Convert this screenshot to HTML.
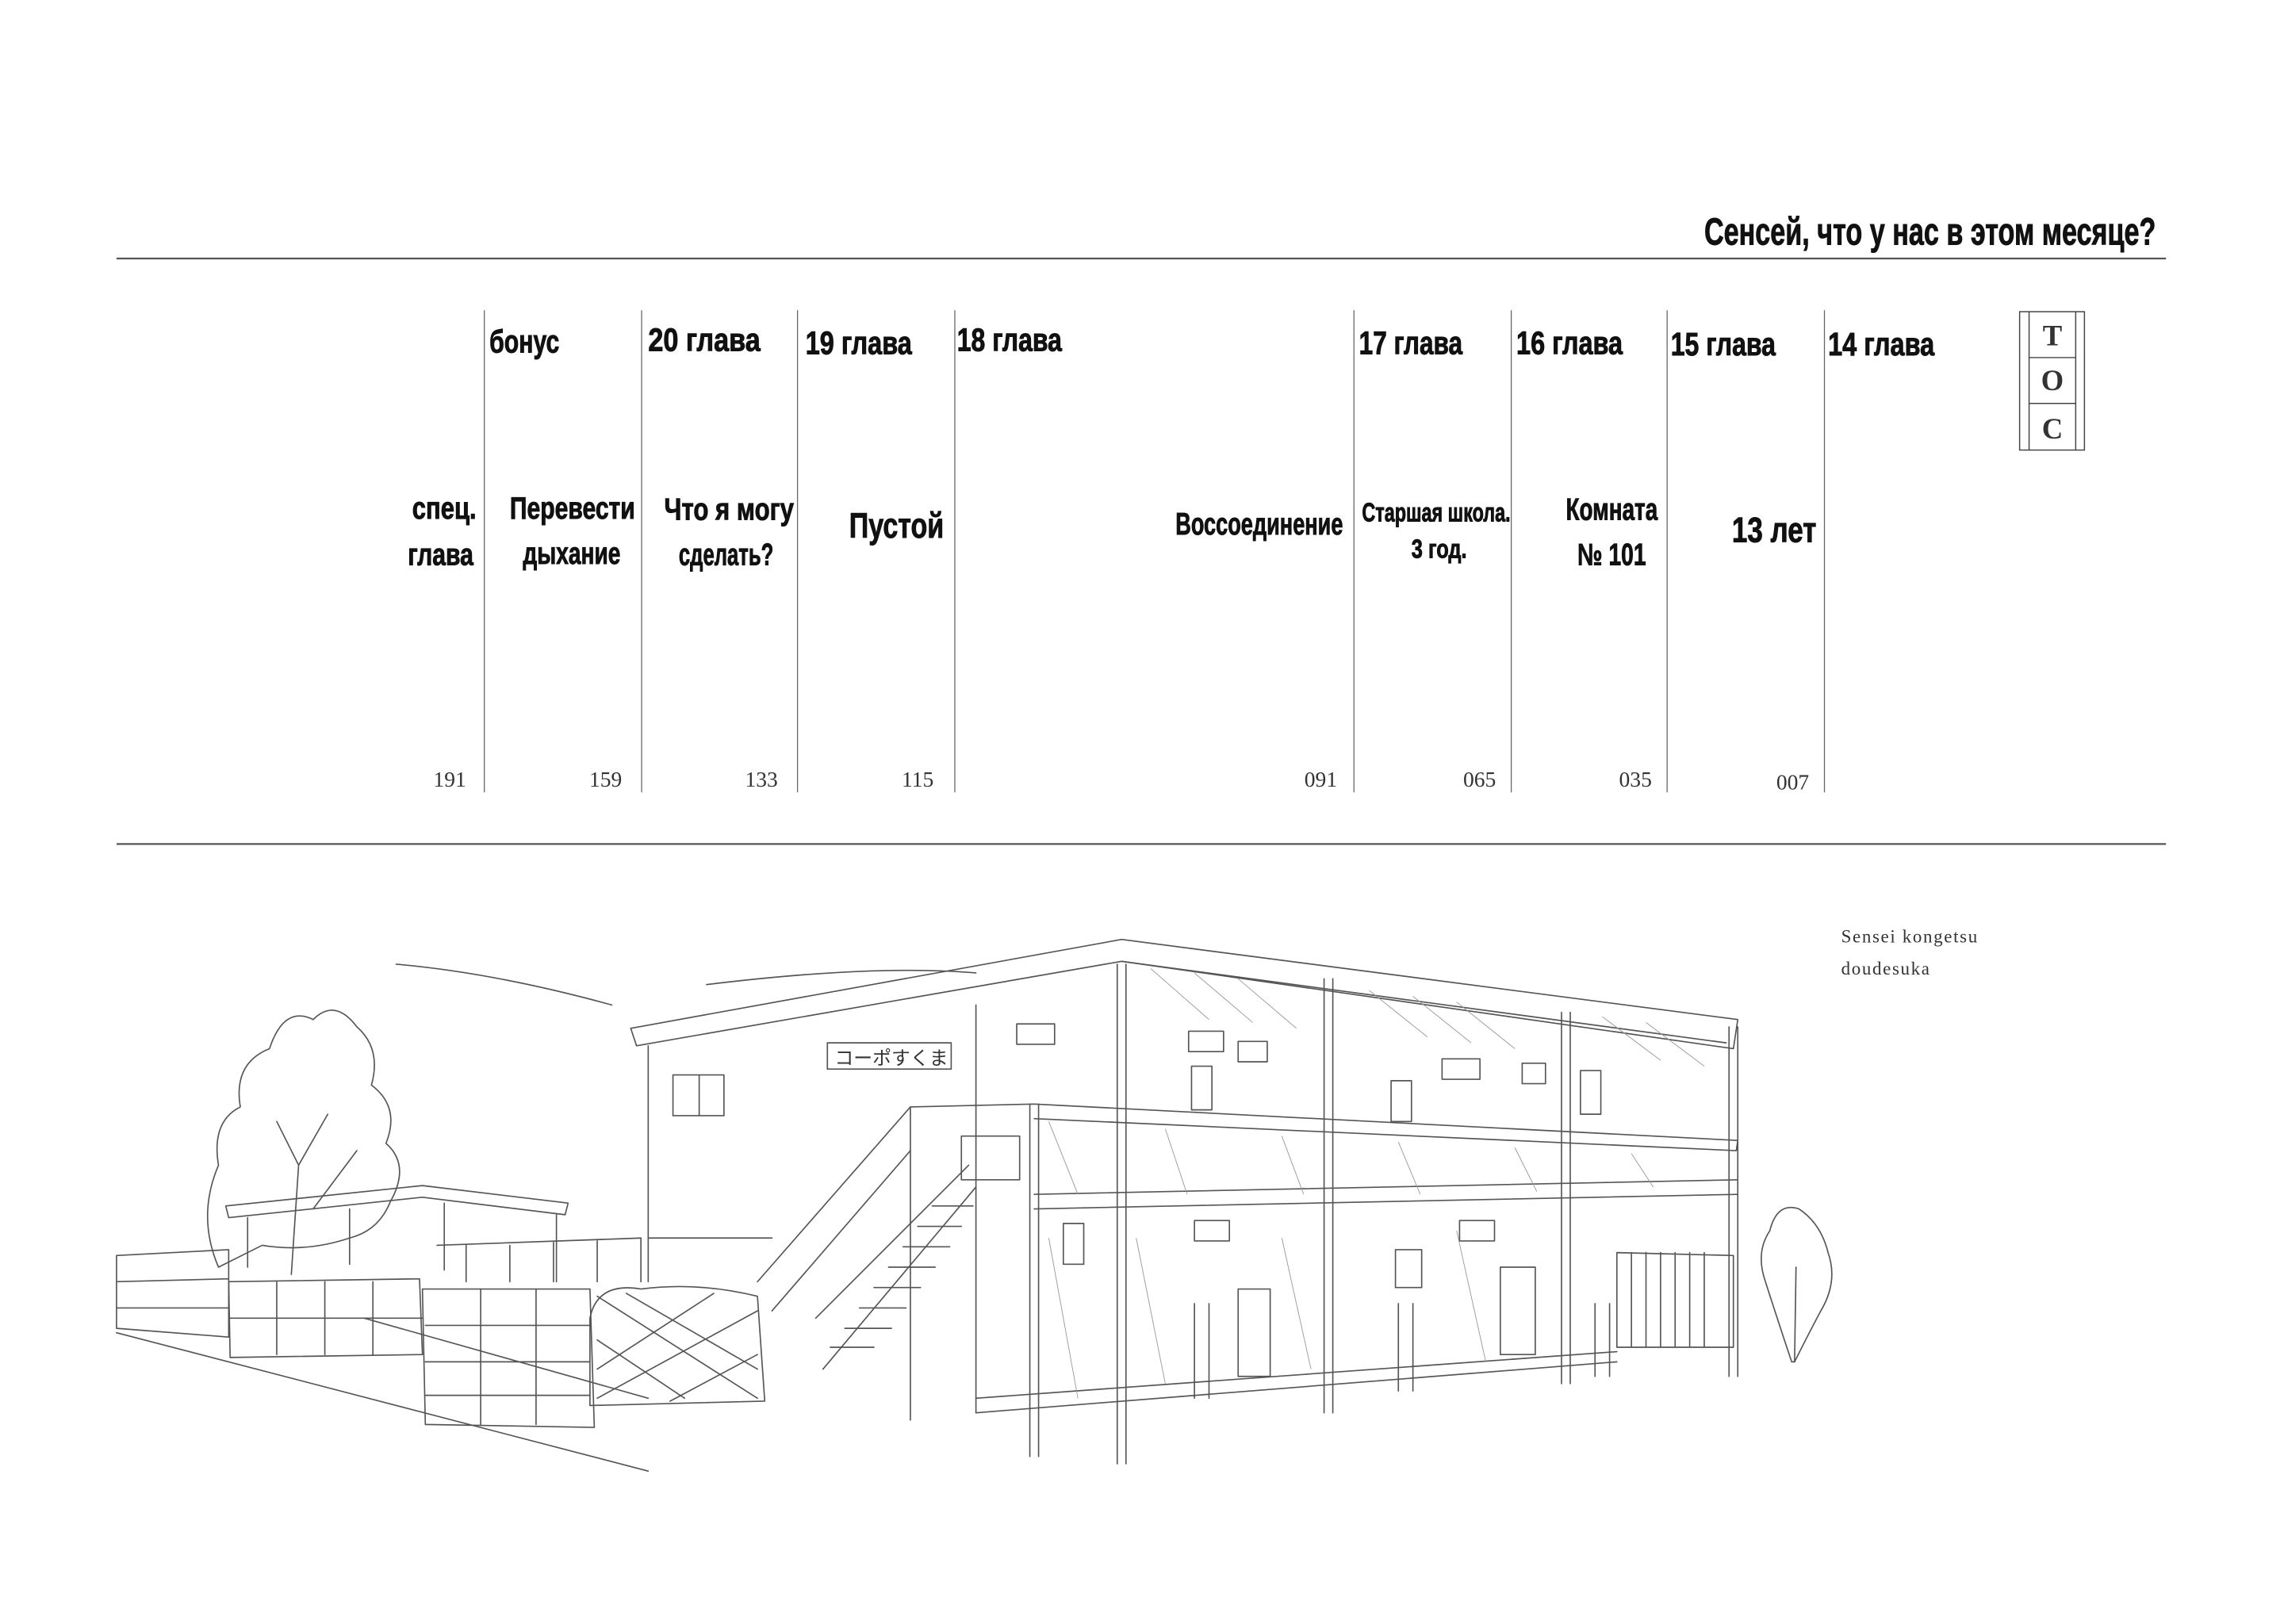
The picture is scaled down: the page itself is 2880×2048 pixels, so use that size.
<!DOCTYPE html>
<html><head><meta charset="utf-8"><style>
html,body{margin:0;padding:0;background:#fff;}
svg{display:block;}
.h{font-family:"Liberation Sans Narrow","Liberation Sans",sans-serif;font-weight:bold;fill:#111;stroke:#111;stroke-width:0.5;}
.n{font-family:"Liberation Serif",serif;fill:#333;}
.s{fill:none;stroke:#555;stroke-width:0.9;stroke-linecap:round;stroke-linejoin:round;}
.t{fill:none;stroke:#999;stroke-width:0.5;}
</style></head><body>
<svg width="2880" height="2048" viewBox="0 0 1568 1115" preserveAspectRatio="none" xmlns="http://www.w3.org/2000/svg">
<rect width="1568" height="1115" fill="#fff"/>
<text class="h" x="1170" y="168" font-size="26" textLength="310" lengthAdjust="spacingAndGlyphs">Сенсей, что у нас в этом месяце?</text>
<line x1="80" y1="177.5" x2="1487" y2="177.5" stroke="#555" stroke-width="1.2"/>
<line x1="80" y1="579.5" x2="1487" y2="579.5" stroke="#555" stroke-width="1.2"/>
<g stroke="#666" stroke-width="0.7">
<line x1="332.5" y1="213" x2="332.5" y2="544"/><line x1="440.5" y1="213" x2="440.5" y2="544"/>
<line x1="547.5" y1="213" x2="547.5" y2="544"/><line x1="655.5" y1="213" x2="655.5" y2="544"/>
<line x1="929.5" y1="213" x2="929.5" y2="544"/><line x1="1037.5" y1="213" x2="1037.5" y2="544"/>
<line x1="1144.5" y1="213" x2="1144.5" y2="544"/><line x1="1252.5" y1="213" x2="1252.5" y2="544"/>
</g>
<g class="h" font-size="22">
<text x="336" y="242" textLength="48" lengthAdjust="spacingAndGlyphs">бонус</text>
<text x="445" y="241" textLength="77" lengthAdjust="spacingAndGlyphs">20 глава</text>
<text x="553" y="243" textLength="73" lengthAdjust="spacingAndGlyphs">19 глава</text>
<text x="657" y="241" textLength="72" lengthAdjust="spacingAndGlyphs">18 глава</text>
<text x="933" y="243" textLength="71" lengthAdjust="spacingAndGlyphs">17 глава</text>
<text x="1041" y="243" textLength="73" lengthAdjust="spacingAndGlyphs">16 глава</text>
<text x="1147" y="244" textLength="72" lengthAdjust="spacingAndGlyphs">15 глава</text>
<text x="1255" y="244" textLength="73" lengthAdjust="spacingAndGlyphs">14 глава</text>
</g>
<g class="h" font-size="21">
<text x="283" y="356" textLength="44" lengthAdjust="spacingAndGlyphs">спец.</text>
<text x="280" y="388" textLength="45" lengthAdjust="spacingAndGlyphs">глава</text>
<text x="350" y="356" textLength="86" lengthAdjust="spacingAndGlyphs">Перевести</text>
<text x="359" y="387" textLength="67" lengthAdjust="spacingAndGlyphs">дыхание</text>
<text x="456" y="357" textLength="89" lengthAdjust="spacingAndGlyphs">Что я могу</text>
<text x="466" y="388" textLength="65" lengthAdjust="spacingAndGlyphs">сделать?</text>
<text x="583" y="369" font-size="24" textLength="65" lengthAdjust="spacingAndGlyphs">Пустой</text>
<text x="807" y="367" textLength="115" lengthAdjust="spacingAndGlyphs">Воссоединение</text>
<text x="935" y="358" font-size="18" textLength="102" lengthAdjust="spacingAndGlyphs">Старшая школа.</text>
<text x="969" y="383" font-size="18" textLength="38" lengthAdjust="spacingAndGlyphs">3 год.</text>
<text x="1075" y="357" textLength="63" lengthAdjust="spacingAndGlyphs">Комната</text>
<text x="1083" y="388" textLength="47" lengthAdjust="spacingAndGlyphs">№ 101</text>
<text x="1189" y="372" font-size="24" textLength="58" lengthAdjust="spacingAndGlyphs">13 лет</text>
</g>
<g class="n" font-size="15" text-anchor="end">
<text x="320" y="540">191</text><text x="427" y="540">159</text><text x="534" y="540">133</text><text x="641" y="540">115</text>
<text x="918" y="540">091</text><text x="1027" y="540">065</text><text x="1134" y="540">035</text><text x="1242" y="542">007</text>
</g>
<g fill="none" stroke="#444" stroke-width="0.8">
<rect x="1386.5" y="214" width="44.5" height="95"/>
<line x1="1393" y1="214" x2="1393" y2="309"/><line x1="1425" y1="214" x2="1425" y2="309"/>
<line x1="1393" y1="245.5" x2="1425" y2="245.5"/><line x1="1393" y1="277" x2="1425" y2="277"/>
</g>
<g class="n" font-size="20" font-weight="bold" text-anchor="middle" fill="#111">
<text x="1409" y="237">T</text><text x="1409" y="268">O</text><text x="1409" y="301">C</text>
</g>
<g class="n" font-size="12.5" fill="#222" letter-spacing="0.9">
<text x="1264" y="647">Sensei kongetsu</text><text x="1264" y="669">doudesuka</text>
</g>
<!-- building sketch -->
<g class="s">
<path d="M272 662 Q340 668 420 690 M485 676 Q600 662 670 668"/>
<path d="M150 870 Q135 835 150 800 Q145 770 165 760 Q160 730 185 720 Q195 690 215 700 Q230 685 245 705 Q262 720 255 745 Q275 760 265 785 Q282 800 268 825 Q260 845 240 850 Q210 860 180 855 Z"/>
<path d="M200 875 L205 800 L190 770 M205 800 L225 765 M215 830 L245 790"/>
<path d="M1230 935 Q1220 905 1212 880 Q1205 860 1215 845 Q1220 825 1235 830 Q1250 840 1255 860 Q1262 880 1250 900 Q1242 915 1232 935 Z"/>
<path d="M1232 935 L1233 870"/>
<path d="M155 828 L290 814 L390 826 L388 834 L290 822 L157 836 Z"/>
<path d="M170 836 L170 870 M240 830 L240 868 M305 826 L305 872 M382 834 L382 880"/>
<path d="M80 862 L157 858 L157 918 L80 912 Z M80 880 L157 878 M80 898 L157 898"/>
<path d="M157 880 L288 878 L290 930 L158 932 Z M158 905 L290 905 M190 880 L190 930 M223 880 L223 930 M256 880 L256 930"/>
<path d="M290 885 L405 885 L408 980 L292 978 Z M292 910 L405 910 M292 935 L405 935 M292 958 L405 958 M330 885 L330 978 M368 885 L368 978"/>
<path d="M405 905 Q410 880 440 885 Q480 880 520 890 L525 962 L405 965 Z"/>
<path d="M410 890 L520 960 M430 888 L520 940 M410 920 L470 960 M520 900 L410 960 M490 888 L410 940 M520 930 L460 962"/>
<path d="M300 855 L440 850 L440 880 M320 855 L320 880 M350 855 L350 880 M380 853 L380 880 M410 852 L410 880"/>
<path d="M80 915 L445 1010 M250 905 L445 960"/>
<path d="M433 706 L770 645 L1193 700 L1190 720 L770 660 L437 718 Z"/>
<path d="M445 718 L445 880 M445 850 L530 850 M670 690 L670 970"/>
<path d="M770 660 L1185 716"/>
<rect x="462" y="738" width="35" height="28"/><line x1="480" y1="738" x2="480" y2="766"/>
<rect x="568" y="716" width="85" height="18"/>
<text x="573" y="731" font-family="Noto Sans CJK JP,sans-serif" font-size="13" fill="#333" stroke="none">コーポすくま</text>
<rect x="698" y="703" width="26" height="14"/><rect x="816" y="708" width="24" height="14"/>
<rect x="818" y="732" width="14" height="30"/><rect x="850" y="715" width="20" height="14"/>
<rect x="955" y="742" width="14" height="28"/><rect x="990" y="727" width="26" height="14"/>
<rect x="1045" y="730" width="16" height="14"/><rect x="1085" y="735" width="14" height="30"/>
<path d="M625 760 L710 758 L1193 783 L1192 790 L710 768 M710 820 L1193 810 M710 830 L1193 820 M625 760 L625 975"/>
<path d="M660 780 L700 780 L700 810 L660 810 Z"/>
<path d="M520 880 L625 760 M530 900 L625 790 M565 940 L670 815 M560 905 L665 800"/>
<path d="M570 925 L600 925 M580 912 L612 912 M590 898 L622 898 M600 884 L632 884 M610 870 L642 870 M620 856 L652 856 M630 842 L660 842 M640 828 L668 828"/>
<path d="M707 758 L707 1000 M713 758 L713 1000"/>
<path d="M767 662 L767 1005 M773 662 L773 1005"/>
<path d="M909 672 L909 970 M915 672 L915 970"/>
<path d="M1072 695 L1072 950 M1078 695 L1078 950"/>
<path d="M1187 705 L1187 945 M1193 705 L1193 945"/>
<path d="M670 970 L1110 935 M670 960 L1110 928"/>
<rect x="820" y="838" width="24" height="14"/><rect x="958" y="858" width="18" height="26"/>
<rect x="1002" y="838" width="24" height="14"/><rect x="850" y="885" width="22" height="60"/>
<rect x="1030" y="870" width="24" height="60"/><rect x="730" y="840" width="14" height="28"/>
<path d="M820 895 L820 960 M830 895 L830 960 M960 895 L960 955 M970 895 L970 955 M1095 895 L1095 945 M1105 895 L1105 945"/>
<path d="M1110 860 L1190 862 L1190 925 L1110 925 Z M1120 860 L1120 925 M1130 860 L1130 925 M1140 860 L1140 925 M1150 860 L1150 925 M1160 860 L1160 925 M1170 860 L1170 925"/>
</g>
<g class="t">
<path d="M790 665 L830 700 M820 668 L860 702 M850 672 L890 706 M940 680 L980 712 M970 684 L1010 716 M1000 688 L1040 720 M1100 698 L1140 728 M1130 702 L1170 732"/>
<path d="M720 770 L740 820 M800 775 L815 820 M880 780 L895 820 M960 784 L975 820 M1040 788 L1055 818 M1120 792 L1135 815"/>
<path d="M720 850 L740 960 M780 850 L800 950 M880 850 L900 940 M1000 845 L1020 935"/>
</g>
</svg>
</body></html>
